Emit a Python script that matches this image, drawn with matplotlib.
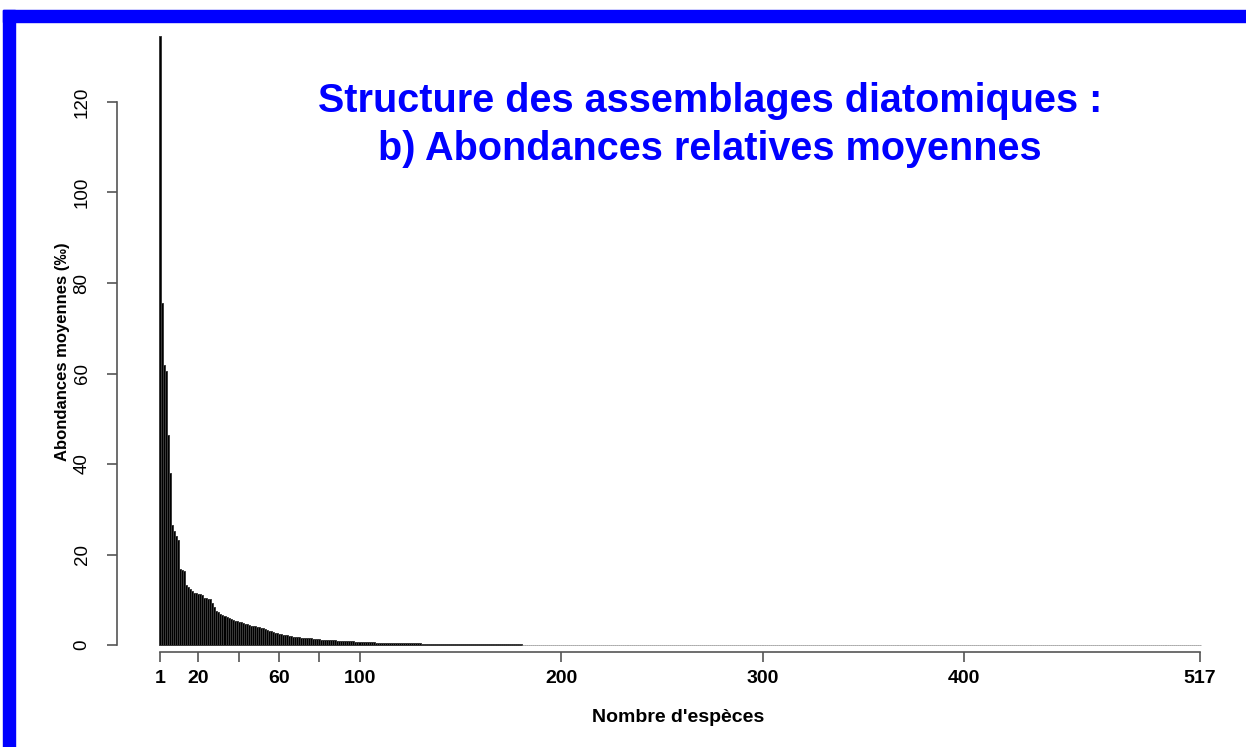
import matplotlib
matplotlib.use("Agg")
import matplotlib.pyplot as plt
from matplotlib.patches import Rectangle
import numpy as np

# ---- data ----
abund_1_60 = [134.5, 75.6, 61.8, 60.5, 46.5, 38.0, 26.6, 25.3, 24.0, 23.1,
              16.7, 16.6, 16.4, 13.2, 12.8, 12.4, 12.0, 11.6, 11.4, 11.3,
              11.2, 11.0, 10.4, 10.3, 10.2, 10.1, 9.3, 8.4, 7.6, 7.2,
              6.9, 6.6, 6.3, 6.1, 5.9, 5.7, 5.5, 5.3, 5.2, 5.1,
              5.0, 4.8, 4.7, 4.6, 4.4, 4.3, 4.2, 4.1, 4.0, 3.9,
              3.8, 3.7, 3.6, 3.4, 3.2, 3.0, 2.9, 2.7, 2.6, 2.5]
abund_61_120 = [2.4, 2.3, 2.2, 2.1, 2.0, 1.9, 1.85, 1.8, 1.75, 1.7,
                1.65, 1.6, 1.6, 1.55, 1.5, 1.45, 1.4, 1.35, 1.3, 1.25,
                1.2, 1.2, 1.15, 1.1, 1.1, 1.05, 1.0, 1.0, 0.95, 0.95,
                0.9, 0.9, 0.88, 0.85, 0.82, 0.8, 0.78, 0.75, 0.72, 0.7,
                0.68, 0.66, 0.64, 0.62, 0.6, 0.58, 0.56, 0.54, 0.52, 0.5,
                0.48, 0.47, 0.46, 0.45, 0.44, 0.43, 0.42, 0.41, 0.40, 0.39]
abund_121_180 = [0.38, 0.38, 0.37, 0.37, 0.36, 0.36, 0.35, 0.35, 0.34, 0.34,
                 0.33, 0.33, 0.32, 0.32, 0.31, 0.31, 0.30, 0.30, 0.30, 0.29,
                 0.29, 0.28, 0.28, 0.27, 0.27, 0.26, 0.26, 0.25, 0.25, 0.24,
                 0.24, 0.23, 0.23, 0.22, 0.22, 0.21, 0.21, 0.20, 0.20, 0.20,
                 0.19, 0.19, 0.19, 0.18, 0.18, 0.18, 0.17, 0.17, 0.17, 0.17,
                 0.16, 0.16, 0.16, 0.16, 0.15, 0.15, 0.15, 0.15, 0.15, 0.15]
# species 181-517: barely above zero (visible only as the baseline)
abund_181_517 = [0.06] * 60 + [0.05] * 80 + [0.04] * 90 + [0.03] * 107

abundances = abund_1_60 + abund_61_120 + abund_121_180 + abund_181_517
ranks = list(range(1, len(abundances) + 1))

xtick_pos = [1, 20, 40, 60, 80, 100, 200, 300, 400, 517]
xtick_lab = ["1", "20", "", "60", "", "100", "200", "300", "400", "517"]
ytick_pos = [0, 20, 40, 60, 80, 100, 120]

title_lines = "Structure des assemblages diatomiques :\nb) Abondances relatives moyennes"
xlabel = "Nombre d'espèces"
ylabel = "Abondances moyennes (‰)"

# ---- figure ----
W, H = 1246, 747
fig = plt.figure(figsize=(W / 100, H / 100), dpi=100)
fig.patch.set_facecolor("white")

def px(x0, y0, x1, y1):
    return [x0 / W, 1 - y1 / H, (x1 - x0) / W, (y1 - y0) / H]

# blue frame
fig.add_artist(Rectangle((3 / W, 0), 12 / W, 1 - 10 / H, transform=fig.transFigure,
                         color="#0000FF", zorder=0))
fig.add_artist(Rectangle((3 / W, 1 - 22 / H), 1, 12 / H, transform=fig.transFigure,
                         color="#0000FF", zorder=0))

ax = fig.add_axes(px(100, 30, 1230, 670))
ppu_x = 2.015
x0_pix = 158.0
ppu_y = 4.525
y0_pix = 645.0
ax.set_xlim((100 - x0_pix) / ppu_x, (1230 - x0_pix) / ppu_x)
ax.set_ylim((y0_pix - 670) / ppu_y, (y0_pix - 30) / ppu_y)
ax.patch.set_alpha(0)

n_main = len(abund_1_60) + len(abund_61_120) + len(abund_121_180)
ax.bar(ranks[:n_main], abundances[:n_main], width=1.0, color="black",
       edgecolor="#3a3a3a", linewidth=0.7, zorder=2)
ax.bar(ranks[n_main:], abundances[n_main:], width=1.0, color="#777777",
       edgecolor="#888888", linewidth=0.5, zorder=2)

for s in ["top", "right"]:
    ax.spines[s].set_visible(False)
ax.spines["left"].set_bounds(0, 120)
ax.spines["left"].set_position(("data", (117 - x0_pix) / ppu_x))
ax.spines["bottom"].set_bounds(1, 517)
ax.spines["bottom"].set_position(("data", (y0_pix - 652) / ppu_y))
for s in ["left", "bottom"]:
    ax.spines[s].set_color("#555555")
    ax.spines[s].set_linewidth(1.2)

ax.set_xticks(xtick_pos)
ax.set_xticklabels(xtick_lab, fontsize=14, fontweight="bold",
                   family="Liberation Sans")
ax.set_yticks(ytick_pos)
ax.set_yticklabels([str(v) for v in ytick_pos], fontsize=13.5,
                   family="Liberation Sans", rotation=90, va="center")
ax.tick_params(axis="x", length=7, width=1.2, color="#555555", pad=6)
ax.tick_params(axis="y", length=7, width=1.2, color="#555555", pad=12)

fig.text(678 / W, 1 - 718 / H, xlabel, ha="center", va="center",
         fontsize=14, fontweight="bold", family="Liberation Sans")
fig.text(62 / W, 1 - 352 / H, ylabel, ha="center", va="center", rotation=90,
         fontsize=12, fontweight="bold", family="Liberation Sans")

fig.text(710 / W, 1 - 125 / H, title_lines, ha="center", va="center",
         fontsize=28.5, fontweight="bold", color="#0000FF",
         family="Liberation Sans", linespacing=1.3)

fig.savefig("out.png", dpi=100)
